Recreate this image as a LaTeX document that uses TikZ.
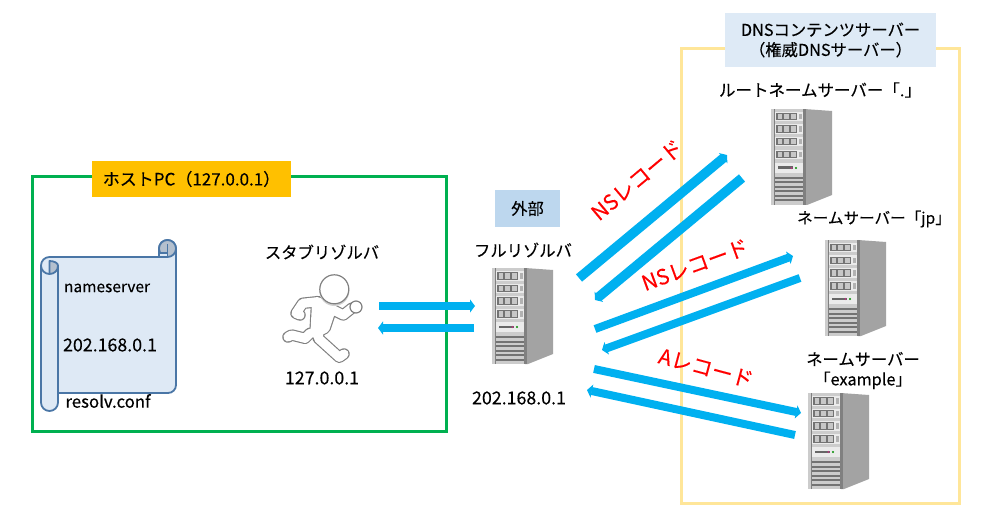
\documentclass[tikz,border=0pt]{standalone}
\usepackage{fontspec}
\setmainfont[FakeBold=0.25]{Noto Sans CJK JP}
\usetikzlibrary{arrows.meta}
\definecolor{hostgreen}{HTML}{00B050}
\definecolor{hostorange}{HTML}{FFC000}
\definecolor{dnsyellow}{HTML}{FFE699}
\definecolor{dnslabel}{HTML}{DEEAF6}
\definecolor{outerlabel}{HTML}{BDD7EE}
\definecolor{flowblue}{HTML}{00B0F0}
\definecolor{scrollfill}{HTML}{DEE9F5}
\definecolor{scrollline}{HTML}{4A76A6}
\definecolor{scrollfold}{HTML}{B4C0CE}
\tikzset{
	x=1pt,y=1pt,
	every node/.style={inner sep=0,outer sep=0,font=\fontsize{16.3}{20}\selectfont},
	addr/.style={font=\fontsize{17.8}{20}\selectfont},
	redlabel/.style={text=red,font=\fontsize{21}{24}\selectfont},
	flow/.style={draw=flowblue,line width=8pt,-{Triangle[length=5pt,width=13pt]}},
	scrollpart/.style={draw=scrollline,line width=1.8pt,line join=round},
	runner/.style={line cap=round,line join=round},
	pics/server/.style={code={
		\fill[black!36] (33,0) -- (61,-2) -- (61,-86) -- (36,-96) -- (33,-96) -- cycle;
		\fill[black!20] (0,0) rectangle (35,-96);
		\fill[black!50] (3,0) rectangle (4,-96);
		\fill[black!50] (32,0) rectangle (35,-96);
		\foreach \bay in {3,15.5,28,41}{
			\fill[black!8] (4,-\bay) rectangle (32,-\bay-9.5);
			\fill[black!55] (5,-\bay-1) rectangle (26,-\bay-8.5);
			\fill[black!22] (6.5,-\bay-2) rectangle (11,-\bay-7.5);
			\fill[black!22] (13,-\bay-2) rectangle (18,-\bay-7.5);
			\fill[black!22] (20,-\bay-2) rectangle (25,-\bay-7.5);
			\fill[black!30] (27.5,-\bay-2) rectangle (31,-\bay-7.5);
		}
		\fill[black!8] (4,-54) rectangle (32,-64);
		\fill[black!60] (7,-57.5) rectangle (22,-60);
		\fill[magenta!70!black] (20.5,-59) circle (1.2);
		\fill[green!55!black] (25,-59) circle (1.2);
		\foreach \slot in {68,72.5,77,81.5,86,90.5}{
			\fill[black!55] (4,-\slot) rectangle (32,-\slot-2);
		}
	}}
}
\begin{document}
\begin{tikzpicture}
	\useasboundingbox (0,0) rectangle (987,520);
	% frames
	\draw[dnsyellow,line width=3pt] (681,471) rectangle (959,17);
	\draw[hostgreen,line width=3pt] (32,343) rectangle (446,89);
	\node[font=\fontsize{17}{20}\selectfont,fill=hostorange,minimum width=199pt,minimum height=36pt] (hostlabel) at (191.5,341) {ホストPC（127.0.0.1）};
	\node[fill=dnslabel,minimum width=211pt,minimum height=54pt,align=center] (dnslabel) at (830.5,480) {DNSコンテンツサーバー\\（権威DNSサーバー）};
	\node[fill=outerlabel,minimum width=65pt,minimum height=37pt] (outer) at (527.5,311.5) {外部};
	% resolv.conf
	\draw[scrollpart,fill=scrollfill] (41,254.5) arc[start angle=180,end angle=90,radius=8.5] -- (159,263) -- (159,271.5) arc[start angle=180,end angle=0,radius=8.5] -- (176,135) arc[start angle=0,end angle=-90,radius=8] -- (58,127) -- (58,117.5) arc[start angle=0,end angle=-180,radius=8.5] -- cycle;
	\draw[scrollpart] (58,254.5) -- (58,127);
	\draw[scrollpart,fill=scrollfold] (49.5,246) -- (49.5,259) .. controls (54,259) and (58,257) .. (58,254.5) .. controls (58,249) and (54,246) .. (49.5,246) -- cycle;
	\draw[scrollpart] (41,254.5) arc[start angle=180,end angle=270,radius=8.5];
	\draw[scrollpart,fill=scrollfold] (167.5,271.5) circle (8.5);
	\draw[scrollpart,fill=scrollfill] (159,263) rectangle (167.5,267);
	\draw[scrollpart] (167.5,263) -- (167.5,276);
	\node[font=\fontsize{15.5}{18}\selectfont] (nameserver) at (107,232) {nameserver};
	\node[addr] (scrolladdr) at (110,175) {202.168.0.1};
	\node[font=\fontsize{16.8}{18}\selectfont] (resolvconf) at (108,119) {resolv.conf};
	% runner
	\def\runnertorso{(316.7,218.3) -- (331.7,211.7) -- (325,191.7) -- (315,186.7) -- cycle}
	\def\runnerlimbs{(318,218.3) -- (302.7,216.7) -- (296,206.7) -- (300,205)
		(330,211.7) -- (343.3,205) -- (351.7,211.7)
		(310,186.7) -- (305,181.7) -- (291.7,185) -- (288,183)
		(319.3,193.3) -- (318.3,181.7) -- (339.3,162.7) -- (344,166)}
	\draw[runner,black!50,line width=11.5pt] \runnerlimbs \runnertorso;
	\draw[runner,white,line width=9.2pt] \runnerlimbs \runnertorso;
	\fill[white] \runnertorso;
	\fill[black!18] (334.3,229) circle (15);
	\draw[black!50,fill=white,line width=1.2pt] (356,213) circle (6);
	\draw[black!50,fill=white,line width=1.2pt] (334.3,230.7) circle (14.5);
	\node (stubname) at (322,268) {スタブリゾルバ};
	\node[addr] (stubaddr) at (322,142) {127.0.0.1};
	% servers
	\pic (fullsrv) at (492,252) {server};
	\pic (rootsrv) at (771,411) {server};
	\pic (jpsrv) at (825,280) {server};
	\pic (exsrv) at (808,127) {server};
	\node (fullname) at (523,270) {フルリゾルバ};
	\node[addr] (fulladdr) at (519,122) {202.168.0.1};
	\node[font=\fontsize{16.5}{20}\selectfont] (rootname) at (820,430) {ルートネームサーバー「.」};
	\node[font=\fontsize{15.6}{20}\selectfont] (jpname) at (874,301) {ネームサーバー「jp」};
	\node[align=center] (exname) at (863,149.5) {ネームサーバー\\「example」};
	% flows
	\coordinate (stubout) at (379,214);
	\coordinate (fullin) at (475,214);
	\coordinate (fullout) at (474,192);
	\coordinate (stubin) at (378,192);
	\coordinate (q1a) at (579,242);
	\coordinate (q1b) at (727,365);
	\coordinate (r1a) at (742,342);
	\coordinate (r1b) at (595,220);
	\coordinate (q2a) at (595,191);
	\coordinate (q2b) at (793,264);
	\coordinate (r2a) at (800,242);
	\coordinate (r2b) at (602,170);
	\coordinate (q3a) at (594,151);
	\coordinate (q3b) at (801,107);
	\coordinate (r3a) at (795,85);
	\coordinate (r3b) at (587,130);
	\draw[flow] (stubout) -- (fullin);
	\draw[flow] (fullout) -- (stubin);
	\draw[flow,line width=9.5pt] (q1a) -- (q1b);
	\draw[flow,line width=9.5pt] (r1a) -- (r1b);
	\draw[flow] (q2a) -- (q2b);
	\draw[flow] (r2a) -- (r2b);
	\draw[flow] (q3a) -- (q3b);
	\draw[flow] (r3a) -- (r3b);
	\node[redlabel,rotate=40] (nslabel1) at (637,340) {NSレコード};
	\node[redlabel,rotate=20] (nslabel2) at (695,255) {NSレコード};
	\node[redlabel,rotate=-15] (alabel) at (706,152) {Aレコード};
\end{tikzpicture}
\end{document}
